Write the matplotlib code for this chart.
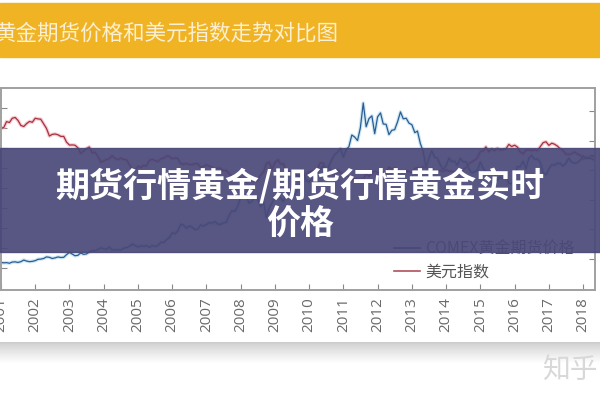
import numpy as np
import pandas as pd
import matplotlib
matplotlib.use("Agg")
from matplotlib import pyplot as plt
from matplotlib import patheffects as pe
from matplotlib.lines import Line2D
from matplotlib.patches import Rectangle
from datetime import datetime

plt.rcParams['font.family'] = ['Noto Sans CJK SC', 'DejaVu Sans']

titulo = '黄金期货价格和美元指数走势对比图'
faixa = '期货行情黄金/期货行情黄金实时\n价格'
rotulos = ['COMEX黄金期货价格', '美元指数']

# ouro COMEX, mensal, jan/2001 - mai/2018 (US$/oz)
ouro = [
    266, 262, 264, 258, 270, 272, 266, 274, 290, 280, 274, 277,
    284, 298, 300, 306, 322, 318, 306, 312, 322, 316, 318, 345,
    368, 350, 334, 338, 362, 348, 352, 372, 386, 384, 396, 414,
    405, 398, 424, 390, 394, 392, 392, 410, 416, 428, 452, 436,
    422, 434, 428, 436, 418, 436, 430, 434, 470, 468, 494, 516,
    568, 556, 582, 652, 644, 612, 636, 624, 598, 604, 646, 634,
    650, 670, 662, 680, 656, 650, 668, 672, 744, 790, 784, 834,
    924, 972, 930, 868, 886, 926, 910, 830, 880, 720, 816, 870,
    928, 942, 920, 884, 978, 928, 954, 952, 1008, 1040, 1180, 1096,
    1082, 1118, 1114, 1178, 1212, 1244, 1180, 1246, 1308, 1358, 1384, 1420,
    1332, 1410, 1438, 1556, 1536, 1500, 1628, 1880, 1640, 1722, 1750, 1570,
    1740, 1780, 1668, 1664, 1560, 1604, 1610, 1690, 1790, 1720, 1726, 1676,
    1660, 1580, 1596, 1470, 1390, 1230, 1320, 1396, 1330, 1322, 1250, 1206,
    1248, 1322, 1286, 1292, 1250, 1320, 1284, 1286, 1212, 1172, 1184, 1200,
    1282, 1214, 1184, 1182, 1190, 1172, 1096, 1134, 1114, 1142, 1066, 1062,
    1116, 1236, 1234, 1292, 1214, 1322, 1350, 1310, 1316, 1276, 1174, 1152,
    1212, 1256, 1250, 1268, 1270, 1242, 1270, 1322, 1282, 1270, 1276, 1302,
    1344, 1318, 1326, 1316, 1300,
]

# indice do dolar, mensal
dolar = [
    112.2, 113.0, 117.3, 116.6, 119.8, 120.4, 118.2, 114.4, 113.6, 115.8, 117.4, 116.8,
    119.8, 119.3, 119.1, 115.6, 112.2, 106.5, 107.7, 108.0, 107.4, 106.2, 106.2, 101.9,
    99.7, 99.8, 99.6, 97.7, 93.5, 95.1, 97.1, 98.3, 93.9, 94.4, 91.2, 86.9,
    87.8, 88.9, 89.5, 91.8, 89.6, 88.8, 89.9, 89.0, 88.6, 85.0, 81.6, 80.9,
    83.9, 82.8, 84.5, 84.0, 88.1, 89.0, 88.1, 87.3, 89.3, 89.9, 91.5, 91.2,
    89.4, 90.1, 89.7, 85.7, 85.4, 85.9, 85.1, 85.0, 85.9, 85.6, 83.0, 83.7,
    84.9, 83.9, 83.2, 81.6, 82.5, 82.2, 80.5, 80.8, 78.1, 76.4, 76.2, 76.7,
    75.0, 74.5, 71.8, 72.9, 72.7, 72.5, 73.1, 77.1, 79.4, 85.8, 87.0, 81.4,
    86.5, 88.8, 85.5, 85.7, 80.1, 80.1, 78.4, 78.1, 76.6, 76.2, 74.9, 77.9,
    79.5, 80.3, 81.1, 81.9, 86.6, 86.0, 81.8, 83.1, 79.0, 77.5, 81.1, 79.0,
    77.8, 76.9, 75.9, 73.0, 74.6, 74.3, 74.0, 74.0, 78.6, 76.2, 78.4, 80.2,
    79.0, 78.7, 79.0, 78.8, 83.1, 81.6, 82.7, 81.2, 79.9, 80.2, 80.2, 79.8,
    79.2, 82.1, 82.9, 82.1, 83.4, 83.1, 81.5, 82.0, 80.2, 80.2, 80.7, 80.0,
    81.2, 80.0, 80.1, 79.5, 80.4, 79.8, 81.5, 82.7, 85.9, 87.0, 88.4, 90.3,
    94.8, 95.3, 98.4, 94.6, 96.9, 95.5, 97.3, 96.0, 96.3, 96.9, 100.2, 98.6,
    99.6, 98.2, 94.6, 93.1, 95.9, 96.1, 95.5, 96.0, 95.4, 98.5, 101.5, 102.2,
    99.5, 101.1, 100.4, 99.0, 97.0, 95.6, 92.9, 92.7, 93.1, 94.6, 93.0, 92.1,
    89.1, 90.6, 90.1, 91.8, 91.0,
]

anos = list(range(2001, 2019))
datas = pd.date_range('2001-01-01', periods=len(ouro), freq='MS')

fig = plt.figure(figsize=(6, 4), dpi=100)

# barra laranja do titulo
fig.patches.append(Rectangle((0, 1 - 57 / 400), 1, 54 / 400, transform=fig.transFigure,
                             color='#f0b323', zorder=0))
fig.text(-0.008, 1 - 34 / 400, titulo, fontsize=15.5, color='#fcefd2', va='center', ha='left')

# sombra embaixo do cartao
for i in range(22):
    cinza = 0.80 + 0.2 * (i / 21) ** 0.8
    fig.patches.append(Rectangle((0, 1 - (343 + i) / 400), 1, 1 / 400, transform=fig.transFigure,
                                 color=(cinza, cinza, cinza), zorder=0, lw=0))

ax = fig.add_axes([1 / 600, 110 / 400, 594 / 600, 202 / 400])
ax2 = ax.twinx()

l1, = ax2.plot(datas, ouro, color='#2a5d93', lw=0.9)
l1.set_path_effects([pe.Stroke(linewidth=2.6, foreground='#a6d3e8', alpha=0.55), pe.Normal()])
l2, = ax.plot(datas, dolar, color='#a8303e', lw=0.9)
l2.set_path_effects([pe.Stroke(linewidth=2.6, foreground='#eaa3ad', alpha=0.55), pe.Normal()])

ax.set_xlim(datetime(2001, 1, 1), datetime(2018, 5, 8))
ax.set_ylim(-9, 142.5)
ax2.set_ylim(-13, 2032)
ax.set_yticks([7.5 + 15 * k for k in range(9)])
ax2.set_yticks(range(300, 2100, 300))
ax.set_xticks([datetime(a, 1, 1) for a in anos])
ax.set_xticklabels([str(a) for a in anos], rotation=90, fontsize=11, color='#6a6a6a',
                   family=['Open Sans', 'DejaVu Sans'])
ax.tick_params(axis='x', direction='in', length=4, color='#888888', pad=5)
ax.tick_params(axis='y', direction='in', length=4, color='#888888', labelleft=False)
ax2.tick_params(axis='y', direction='in', length=4, color='#888888', labelright=False)
for a in (ax, ax2):
    for s in a.spines.values():
        s.set_color('#a0a0a0')
        s.set_linewidth(1.2)

h1 = Line2D([], [], color='#2c4a7c', lw=1.2)
h2 = Line2D([], [], color='#b0505a', lw=1.2)
ax.legend([h1, h2], rotulos, loc='upper left', bbox_to_anchor=(386 / 600, 1 - 233 / 400),
          bbox_transform=fig.transFigure, frameon=False, borderpad=0, fontsize=11.5,
          handlelength=1.6, handletextpad=0.35, labelspacing=0.35, labelcolor='#555555')

# faixa roxa por cima
fig.patches.append(Rectangle((0, 1 - 252 / 400), 1, 104 / 400, transform=fig.transFigure,
                             color='#4a4878', alpha=0.92, zorder=10))
fig.text(0.5, 1 - 204 / 400, faixa, fontsize=24.5, color='white', fontweight='bold',
         ha='center', va='center', linespacing=1.1, zorder=11)

# marca d'agua
fig.text(542 / 600, 1 - 370 / 400, '知乎', fontsize=20, color='#d8d8d8', ha='left', va='center')

plt.savefig('out.png')
